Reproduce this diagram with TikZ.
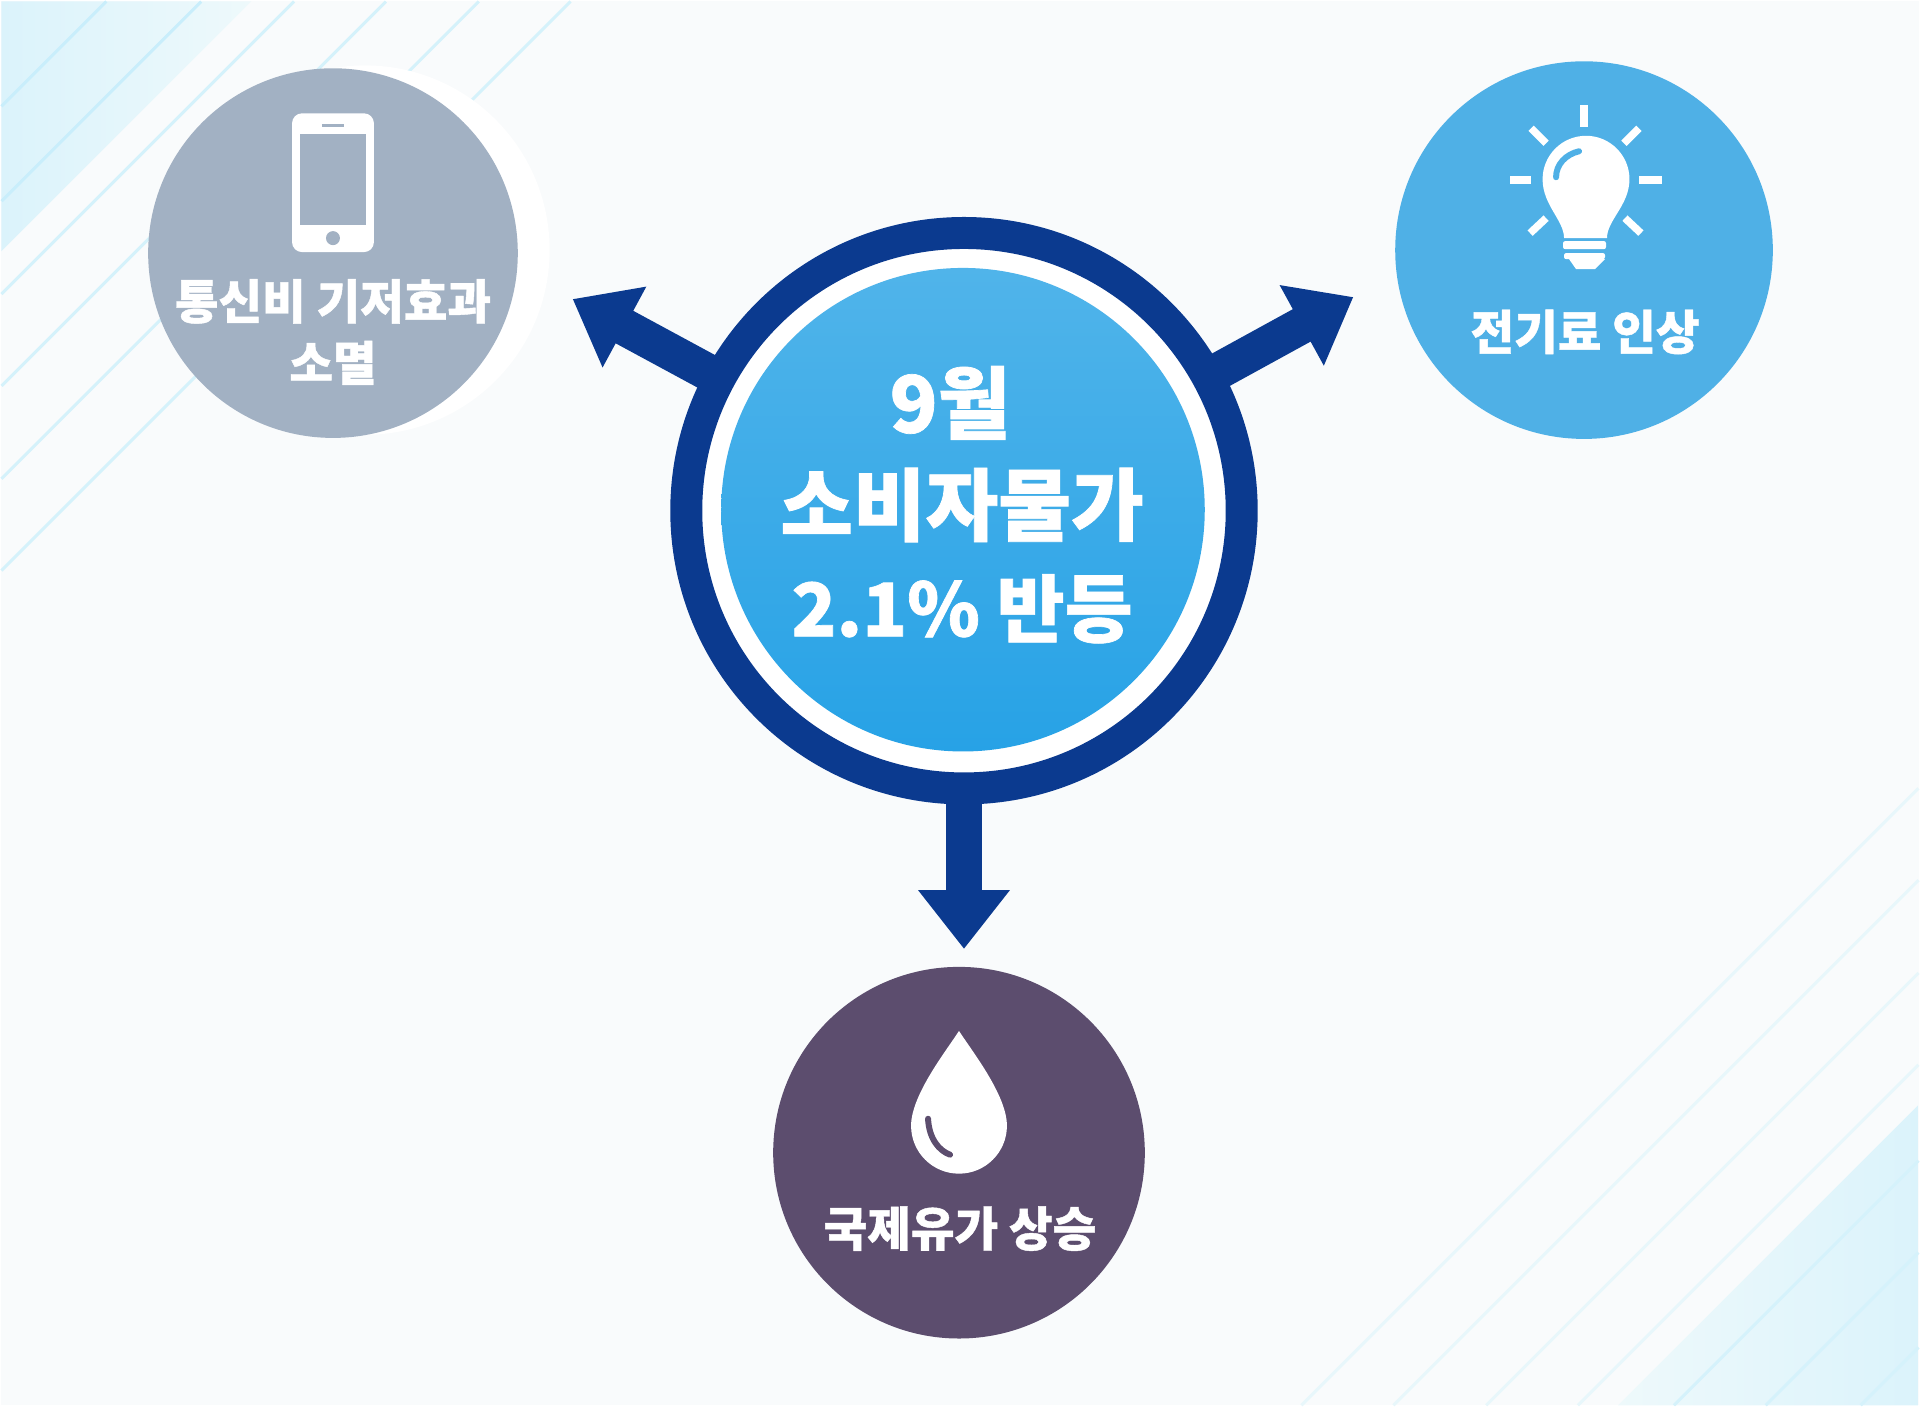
\documentclass[tikz,border=0pt]{standalone}
\usepackage{fontspec}
\usepackage{xcolor}
\usepackage{tikz}
\usetikzlibrary{arrows.meta, calc}
\newfontfamily\krfont{Noto Sans CJK KR}[BoldFeatures={FakeBold=0.9}]
\definecolor{paper}{HTML}{F9FBFC}
\definecolor{ringblue}{HTML}{0B3A8F}
\definecolor{disctop}{HTML}{50B4EA}
\definecolor{discbottom}{HTML}{27A2E6}
\definecolor{bulbblue}{HTML}{4FB0E6}
\definecolor{phonegray}{HTML}{A2B1C3}
\definecolor{dropplum}{HTML}{5C4D6E}
\definecolor{bandpale}{HTML}{EEF9FB}
\definecolor{banddeep}{HTML}{DBF3FB}
\definecolor{linedeep}{HTML}{C9EEFB}
\definecolor{linemid}{HTML}{D5F2FB}
\definecolor{linepale}{HTML}{E8F7FB}
\tikzset{
  phoneicon/.pic={
    \fill[white, rounded corners=0.1cm] (-41,-140) rectangle (41,-1);
    \fill[phonegray] (-33,-119) rectangle (33,-28);
    \draw[phonegray, line width=0.3mm] (-11,-127.5) -- (11,-127.5);
    \fill[phonegray] (0,-15) circle (7);
  },
  bulbicon/.pic={
    \foreach \ax/\ay/\bx/\by in {0/-145/0/-123, -74/-70/-53/-70, 55/-70/78/-70,
        -53/-122/-38/-107, 55/-122/40/-107, -54/-17/-38/-32, 57/-17/41/-32}
      \draw[white, line width=0.75mm] (\ax,\ay) -- (\bx,\by);
    \fill[white] (-20,-12) .. controls (-20,-30) and (-41.5,-45) .. (-41.5,-71)
      arc[start angle=180, end angle=360, radius=43.5]
      .. controls (45.5,-45) and (23,-30) .. (23,-12) -- cycle;
    \draw[bulbblue, line width=0.6mm, line cap=round] (-28,-73) .. controls (-28,-86) and (-18,-96) .. (-5,-99);
    \fill[white, rounded corners=0.02cm] (-21,-9) rectangle (22,-1);
    \fill[white, rounded corners=0.02cm] (-20,3) rectangle (21,9);
    \fill[white] (-15,9) -- (21,9) -- (11,19) -- (-8,19) -- cycle;
  },
  dropicon/.pic={
    \fill[white] (0,-122) .. controls (12,-103) and (48,-58) .. (48,-27)
      arc[start angle=0, end angle=180, radius=48]
      .. controls (-48,-58) and (-12,-103) .. (0,-122) -- cycle;
    \draw[dropplum, line width=0.6mm, line cap=round] (-31,-34) .. controls (-30,-14) and (-20,-2) .. (-9,2);
  }
}
\begin{document}
\begin{tikzpicture}[
  x=0.01cm, y=-0.01cm,
  krtext/.style={text=white, align=center, font=\krfont\bfseries\fontsize{13.5}{17.6}\selectfont},
  bigtext/.style={text=white, align=center, font=\krfont\bfseries\fontsize{22.5}{29}\selectfont},
  causedisc/.style={circle, minimum size=#1, inner sep=0pt},
  flowarrow/.style={-{Triangle[length=5.9mm, width=8.8mm]}, line width=3.7mm, ringblue, shorten <=-0.05cm},
  stripe/.style={line width=0.3mm}
]
  \fill[paper] (0,0) rectangle (1920,1406);
  \shade[left color=banddeep, right color=bandpale] (0,0) -- (250,0) -- (0,250) -- cycle;
  \shade[left color=bandpale, right color=banddeep] (1619,1406) -- (1920,1105) -- (1920,1406) -- cycle;
  \foreach \s in {105, 200} \draw[stripe, linedeep] (\s,0) -- (0,\s);
  \foreach \s in {293, 385, 478, 570} \draw[stripe, linemid] (\s,0) -- (0,\s);
  \foreach \s in {2708, 2800, 2893, 2985} \draw[stripe, linepale] (1920,\s-1920) -- (\s-1406,1406);
  \foreach \s in {3081, 3173, 3268} \draw[stripe, linemid] (1920,\s-1920) -- (\s-1406,1406);

  \fill[white] (364,249) circle (185);
  \node[causedisc=3.7cm, fill=phonegray] (phone) at (332,252) {};
  \node[causedisc=3.78cm, fill=bulbblue] (bulb) at (1585,249) {};
  \node[causedisc=3.72cm, fill=dropplum] (drop) at (959,1153) {};
  \pic at (332,252) {phoneicon};
  \pic at (1585,249) {bulbicon};
  \pic at (959,1153) {dropicon};
  \node[krtext] (phonetext) at (332,331) {통신비 기저효과\\소멸};
  \node[krtext] (bulbtext) at (1586,331) {전기료 인상};
  \node[krtext] (droptext) at (960,1229) {국제유가 상승};

  \coordinate (tipleft) at (572,298);
  \coordinate (tipright) at (1354,296);
  \coordinate (tipdown) at (964,949);
  \node[causedisc=5.56cm, draw=ringblue, line width=3.2mm, fill=white] (hub) at (964,510) {};
  \node[causedisc=4.84cm, top color=disctop, bottom color=discbottom] (hubdisc) at (963,509) {};
  \node[bigtext] (hubtext) at (962,504) {9월\hspace*{0.24cm}\\소비자물가\\{\fontsize{21}{29}\selectfont 2.1\% 반등}};
  \draw[flowarrow] (hub) -- (tipleft);
  \draw[flowarrow] (hub) -- (tipright);
  \draw[flowarrow] (hub) -- (tipdown);
\end{tikzpicture}
\end{document}
